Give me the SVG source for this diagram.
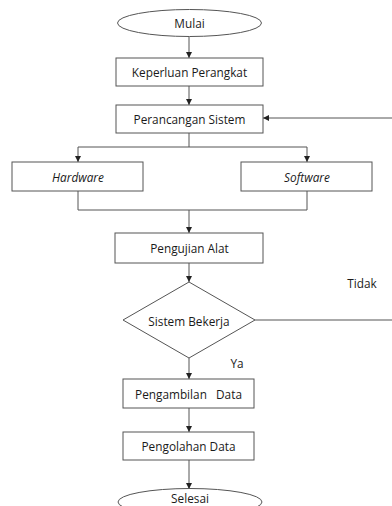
<svg xmlns="http://www.w3.org/2000/svg" width="392" height="506" viewBox="0 0 392 506">
<defs>
<marker id="ah" markerWidth="6" markerHeight="6" refX="6" refY="3" orient="auto" markerUnits="userSpaceOnUse">
<path d="M0,0 L6,3 L0,6 Z" fill="#222"/>
</marker>
<style>
.shape{fill:#fff;stroke:#555;stroke-width:1}
.line{fill:none;stroke:#555;stroke-width:1}
.arr{fill:none;stroke:#555;stroke-width:1;marker-end:url(#ah)}
text{font-family:"Open Sans","Liberation Sans",sans-serif;font-size:11.8px;fill:#1a1a1a;text-anchor:middle;dominant-baseline:central}
.it{font-style:italic}
</style>
</defs>
<rect width="392" height="506" fill="#fff"/>
<g id="connectors">
<path class="arr" d="M189,37 V58"/>
<path class="arr" d="M189,86 V105"/>
<path class="arr" d="M392,118 H263"/>
<path class="line" d="M189,133 V147 M78,147 H307"/>
<path class="arr" d="M78,147 V162"/>
<path class="arr" d="M307,147 V162"/>
<path class="line" d="M78,191 V210 H307 V191"/>
<path class="arr" d="M189,210 V233"/>
<path class="arr" d="M189,263 V282"/>
<path class="line" d="M255,320 H392"/>
<path class="arr" d="M189,358 V379"/>
<path class="arr" d="M189,408 V432"/>
<path class="arr" d="M189,460 V489"/>
</g>
<g id="mulai"><ellipse class="shape" cx="189.5" cy="23" rx="72" ry="13.5"/><text x="189.5" y="23">Mulai</text></g>
<g id="keperluan"><rect class="shape" x="116" y="58" width="147" height="28"/><text x="189.5" y="72">Keperluan Perangkat</text></g>
<g id="perancangan"><rect class="shape" x="116" y="105" width="147" height="28"/><text x="189.5" y="119">Perancangan Sistem</text></g>
<g id="hardware"><rect class="shape" x="12" y="162" width="131" height="29"/><text class="it" x="78" y="176.5">Hardware</text></g>
<g id="software"><rect class="shape" x="241" y="162" width="131" height="29"/><text class="it" x="307" y="176.5">Software</text></g>
<g id="pengujian"><rect class="shape" x="115" y="233" width="148" height="30"/><text x="189.5" y="248">Pengujian Alat</text></g>
<g id="sistem"><path class="shape" d="M189,282 L255,320 L189,358 L123,320 Z"/><text x="189" y="320.5">Sistem Bekerja</text></g>
<g id="pengambilan"><rect class="shape" x="123" y="379" width="131" height="29"/><text x="188.5" y="393.5" xml:space="preserve">Pengambilan   Data</text></g>
<g id="pengolahan"><rect class="shape" x="123" y="432" width="131" height="28"/><text x="188.5" y="446">Pengolahan Data</text></g>
<g id="selesai"><ellipse class="shape" cx="190" cy="502" rx="72" ry="13.5"/><text x="190" y="497.5">Selesai</text></g>
<text x="362" y="283">Tidak</text>
<text x="237" y="363">Ya</text>
</svg>
